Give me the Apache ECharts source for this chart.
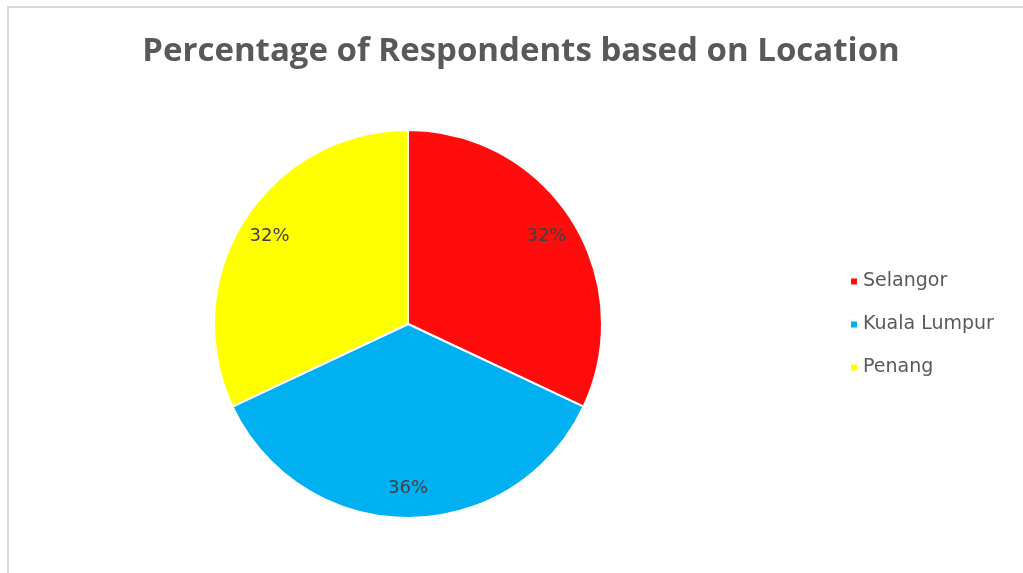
<!DOCTYPE html>
<html>
<head>
<meta charset="utf-8">
<script src="https://cdn.jsdelivr.net/npm/echarts@6/dist/echarts.min.js"></script>
<style>
	html, body { margin: 0; padding: 0; background: #fff; }
	#frame {
		position: absolute; left: 7px; top: 6px; width: 1016px; height: 567px;
		border-top: 2px solid #d9d9d9; border-left: 2px solid #d9d9d9;
	}
	#chart { position: absolute; left: 0; top: 0; width: 1023px; height: 573px; }
</style>
</head>
<body>
<div id="frame"></div>
<div id="chart"></div>
<script>
// 数据
const locations = ['Selangor', 'Kuala Lumpur', 'Penang'];
const percents = [32, 36, 32];
const colors = ['#ff0d0d', '#00b0f0', '#ffff00'];

const pieData = locations.map((name, i) => ({
	name: name,
	value: percents[i],
	itemStyle: { color: colors[i] }
}));

const myChart = echarts.init(document.getElementById('chart'));
myChart.setOption({
	animation: false,
	title: {
		text: 'Percentage of Respondents based on Location',
		left: 516,
		textAlign: 'center',
		top: 30,
		textStyle: {
			color: '#595959',
			fontSize: 33,
			fontWeight: 'bold',
			fontFamily: 'Open Sans'
		}
	},
	legend: {
		orient: 'vertical',
		left: 844,
		top: 267,
		itemWidth: 8,
		itemHeight: 8,
		itemGap: 24,
		icon: 'rect',
		data: locations,
		textStyle: {
			color: '#595959',
			fontSize: 19,
			fontFamily: 'DejaVu Sans'
		}
	},
	series: [
		{
			// 饼图本体
			type: 'pie',
			radius: 194,
			center: [408, 324],
			startAngle: 90,
			clockwise: true,
			silent: true,
			itemStyle: { borderColor: '#fff', borderWidth: 2 },
			label: { show: false },
			labelLine: { show: false },
			data: pieData
		},
		{
			// 透明层，仅用来放标签
			type: 'pie',
			radius: [128, 194],
			center: [408, 324],
			startAngle: 90,
			clockwise: true,
			silent: true,
			legendHoverLink: false,
			itemStyle: { color: 'rgba(0,0,0,0)', borderWidth: 0 },
			label: {
				show: true,
				position: 'inside',
				formatter: '{c}%',
				color: '#404040',
				fontSize: 18,
				fontFamily: 'DejaVu Sans'
			},
			labelLine: { show: false },
			data: locations.map((name, i) => ({ name: name, value: percents[i] }))
		}
	]
});
</script>
</body>
</html>
